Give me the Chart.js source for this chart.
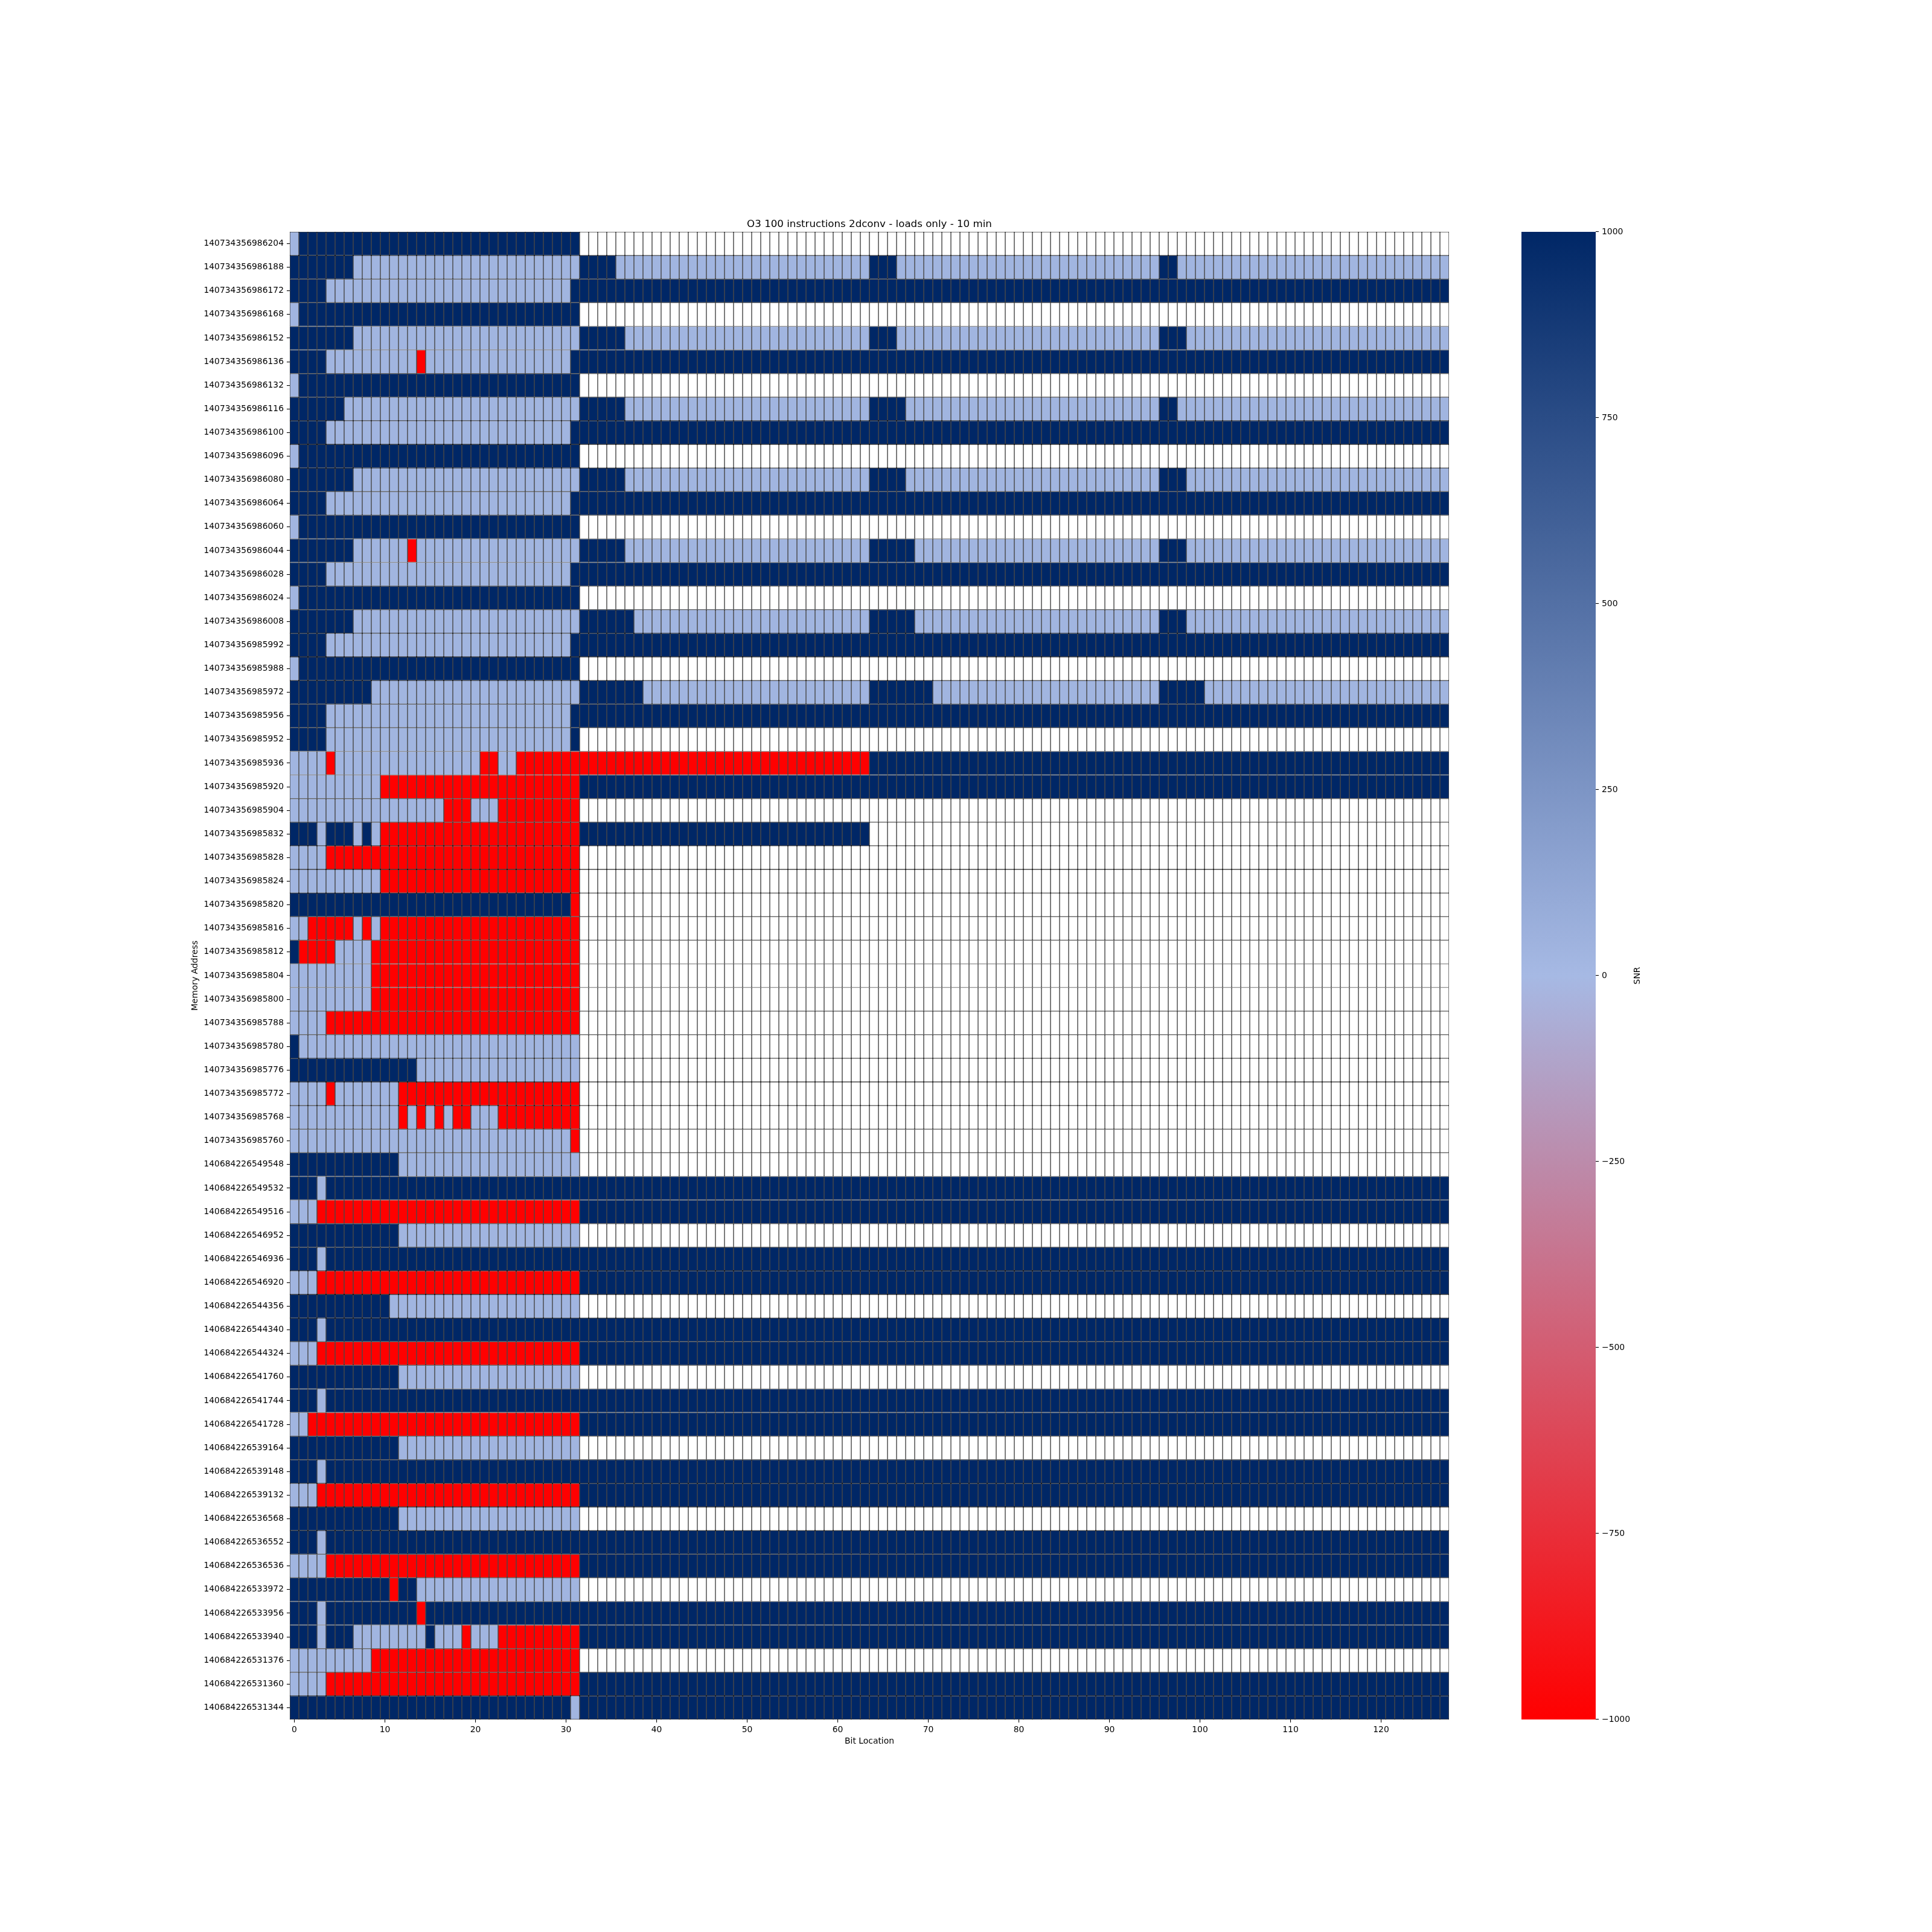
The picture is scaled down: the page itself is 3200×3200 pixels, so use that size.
<!DOCTYPE html>
<html><head><meta charset="utf-8">
<script src="https://cdn.jsdelivr.net/npm/chart.js@4.4.1/dist/chart.umd.min.js"></script>
<style>
html,body{margin:0;padding:0;background:#fff;}
#wrap{position:relative;width:3200px;height:3200px;background:#fff;}
#main{position:absolute;left:0;top:0;}
#cbar{position:absolute;left:2400px;top:0;}
</style></head><body>
<div id="wrap"><canvas id="main" width="3200" height="3200"></canvas><canvas id="cbar" width="800" height="3200"></canvas></div>
<script>
// ---------------- data ----------------
const memoryAddresses = [
  '140734356986204','140734356986188','140734356986172','140734356986168','140734356986152',
  '140734356986136','140734356986132','140734356986116','140734356986100','140734356986096',
  '140734356986080','140734356986064','140734356986060','140734356986044','140734356986028',
  '140734356986024','140734356986008','140734356985992','140734356985988','140734356985972',
  '140734356985956','140734356985952','140734356985936','140734356985920','140734356985904',
  '140734356985832','140734356985828','140734356985824','140734356985820','140734356985816',
  '140734356985812','140734356985804','140734356985800','140734356985788','140734356985780',
  '140734356985776','140734356985772','140734356985768','140734356985760','140684226549548',
  '140684226549532','140684226549516','140684226546952','140684226546936','140684226546920',
  '140684226544356','140684226544340','140684226544324','140684226541760','140684226541744',
  '140684226541728','140684226539164','140684226539148','140684226539132','140684226536568',
  '140684226536552','140684226536536','140684226533972','140684226533956','140684226533940',
  '140684226531376','140684226531360','140684226531344'
];
const bitLocations = Array.from({length: 128}, (_, i) => i);
// SNR value per cell class: D = high SNR, L = near zero, R = low SNR, '.' = no data
const snrLevels = { D: 1000, L: 30, R: -1000, '.': null };
// each row: run-length list of cell classes over the 128 bit locations
const snrRows = [
  'L1 D31 .96',
  'D7 L25 D4 L28 D3 L29 D2 L30',
  'D4 L27 D97',
  'L1 D31 .96',
  'D7 L25 D5 L27 D3 L29 D3 L29',
  'D4 L10 R1 L16 D97',
  'L1 D31 .96',
  'D6 L26 D5 L27 D4 L28 D2 L30',
  'D4 L27 D97',
  'L1 D31 .96',
  'D7 L25 D5 L27 D4 L28 D3 L29',
  'D4 L27 D97',
  'L1 D31 .96',
  'D7 L6 R1 L18 D5 L27 D5 L27 D3 L29',
  'D4 L27 D97',
  'L1 D31 .96',
  'D7 L25 D6 L26 D5 L27 D3 L29',
  'D4 L27 D97',
  'L1 D31 .96',
  'D9 L23 D7 L25 D7 L25 D5 L27',
  'D4 L27 D97',
  'D4 L27 D1 .96',
  'L4 R1 L16 R2 L2 R39 D64',
  'L10 R22 D96',
  'L17 R3 L3 R9 .96',
  'D3 L1 D3 L1 D1 L1 R22 D32 .64',
  'L4 R28 .96',
  'L10 R22 .96',
  'D31 R1 .96',
  'L2 R5 L1 R1 L1 R22 .96',
  'D1 R4 L4 R23 .96',
  'L9 R23 .96',
  'L9 R23 .96',
  'L4 R28 .96',
  'D1 L31 .96',
  'D14 L18 .96',
  'L4 R1 L7 R20 .96',
  'L12 R1 L1 R1 L1 R1 L1 R2 L3 R9 .96',
  'L31 R1 .96',
  'D12 L20 .96',
  'D3 L1 D124',
  'L3 R29 D96',
  'D12 L20 .96',
  'D3 L1 D124',
  'L3 R29 D96',
  'D11 L21 .96',
  'D3 L1 D124',
  'L3 R29 D96',
  'D12 L20 .96',
  'D3 L1 D124',
  'L2 R30 D96',
  'D12 L20 .96',
  'D3 L1 D124',
  'L3 R29 D96',
  'D12 L20 .96',
  'D3 L1 D124',
  'L4 R28 D96',
  'D11 R1 D2 L18 .96',
  'D3 L1 D10 R1 D113',
  'D3 L1 D3 L8 D1 L3 R1 L3 R9 D96',
  'L9 R23 .96',
  'L4 R28 D96',
  'D31 L1 D96'
];
const xTickLabels = [0, 10, 20, 30, 40, 50, 60, 70, 80, 90, 100, 110, 120];
const cbarTicks = [-1000, -750, -500, -250, 0, 250, 500, 750, 1000];
const titleText = 'O3 100 instructions 2dconv - loads only - 10 min';
const xTitle = 'Bit Location';
const yTitle = 'Memory Address';
const cbarTitle = 'SNR';

// ---------------- helpers ----------------
function decodeRow(s) {
  const out = [];
  s.trim().split(/\s+/).forEach(tok => {
    const k = tok[0], n = parseInt(tok.slice(1), 10);
    for (let i = 0; i < n; i++) out.push(snrLevels[k]);
  });
  return out;
}
const snrMatrix = snrRows.map(decodeRow);

const cmapStops = [[-1000, [255, 0, 0]], [0, [166, 185, 228]], [1000, [0, 39, 102]]];
function snrColor(v) {
  if (v === null || v === undefined) return '#ffffff';
  if (v <= cmapStops[0][0]) return 'rgb(' + cmapStops[0][1].join(',') + ')';
  for (let i = 1; i < cmapStops.length; i++) {
    const [v1, c1] = cmapStops[i];
    const [v0, c0] = cmapStops[i - 1];
    if (v <= v1) {
      const t = (v - v0) / (v1 - v0);
      return 'rgb(' + c0.map((c, j) => Math.round(c + (c1[j] - c) * t)).join(',') + ')';
    }
  }
  return 'rgb(' + cmapStops[cmapStops.length - 1][1].join(',') + ')';
}

const FONT = 'DejaVu Sans';
const tickFont = { family: FONT, size: 13.9 };

// ---------------- main heatmap ----------------
const datasets = bitLocations.map(b => ({
  data: memoryAddresses.map(() => [b, b + 1]),
  backgroundColor: snrMatrix.map(row => snrColor(row[b])),
  borderColor: '#000000',
  borderWidth: 0.72,
  borderSkipped: false,
  inflateAmount: 0,
  grouped: false,
  barPercentage: 1,
  categoryPercentage: 1
}));

const mainTexts = {
  id: 'mainTexts',
  afterDraw(chart) {
    const c = chart.ctx, a = chart.chartArea;
    c.save();
    c.fillStyle = '#000';
    c.textAlign = 'center';
    c.textBaseline = 'alphabetic';
    c.font = '16.67px "' + FONT + '"';
    c.fillText(titleText, (a.left + a.right) / 2, a.top - 8);
    c.font = '13.9px "' + FONT + '"';
    c.fillText(xTitle, (a.left + a.right) / 2, 2888);
    c.translate(327, (a.top + a.bottom) / 2);
    c.rotate(-Math.PI / 2);
    c.fillText(yTitle, 0, 0);
    c.restore();
  }
};

new Chart(document.getElementById('main'), {
  type: 'bar',
  data: { labels: memoryAddresses, datasets },
  options: {
    indexAxis: 'y',
    responsive: false,
    animation: false,
    devicePixelRatio: 1,
    events: [],
    layout: { padding: { left: 0, top: 384, right: 800, bottom: 0 } },
    plugins: { legend: { display: false }, tooltip: { enabled: false }, title: { display: false } },
    scales: {
      x: {
        type: 'linear', min: 0, max: 128,
        afterBuildTicks: s => { s.ticks = xTickLabels.map(v => ({ value: v + 0.5 })); },
        afterFit: s => { s.height = 352; },
        ticks: {
          autoSkip: false, maxRotation: 0, padding: 4, color: '#000', font: tickFont,
          callback: v => String(Math.round(v - 0.5))
        },
        grid: { drawOnChartArea: false, drawTicks: true, tickLength: 5, color: '#000', lineWidth: 1.1 },
        border: { display: false }
      },
      y: {
        type: 'category',
        afterFit: s => { s.width = 480; },
        ticks: { autoSkip: false, padding: 5, color: '#000', font: tickFont },
        grid: { offset: false, drawOnChartArea: false, drawTicks: true, tickLength: 5, color: '#000', lineWidth: 1.1 },
        border: { display: false }
      }
    }
  },
  plugins: [mainTexts]
});

// ---------------- colour bar ----------------
const cbarTexts = {
  id: 'cbarTexts',
  afterDraw(chart) {
    const c = chart.ctx, a = chart.chartArea;
    c.save();
    c.fillStyle = '#000';
    c.textAlign = 'center';
    c.textBaseline = 'alphabetic';
    c.font = '13.9px "' + FONT + '"';
    c.translate(316, (a.top + a.bottom) / 2);
    c.rotate(-Math.PI / 2);
    c.fillText(cbarTitle, 0, 0);
    c.restore();
  }
};

new Chart(document.getElementById('cbar'), {
  type: 'bar',
  data: {
    labels: [cbarTitle],
    datasets: [{
      data: [[cbarTicks[0], cbarTicks[cbarTicks.length - 1]]],
      backgroundColor: (ctx) => {
        const ch = ctx.chart, a = ch.chartArea;
        if (!a) return '#ffffff';
        const g = ch.ctx.createLinearGradient(0, a.bottom, 0, a.top);
        const lo = cbarTicks[0], hi = cbarTicks[cbarTicks.length - 1];
        cbarTicks.forEach(v => g.addColorStop((v - lo) / (hi - lo), snrColor(v)));
        return g;
      },
      borderWidth: 0,
      inflateAmount: 0,
      barPercentage: 1,
      categoryPercentage: 1
    }]
  },
  options: {
    responsive: false,
    animation: false,
    devicePixelRatio: 1,
    events: [],
    layout: { padding: { left: 120, top: 384, right: 0, bottom: 352 } },
    plugins: { legend: { display: false }, tooltip: { enabled: false } },
    scales: {
      x: { display: false },
      y: {
        position: 'right', min: cbarTicks[0], max: cbarTicks[cbarTicks.length - 1],
        afterBuildTicks: s => { s.ticks = cbarTicks.map(v => ({ value: v })); },
        afterFit: s => { s.width = 557; },
        ticks: {
          padding: 5, color: '#000', font: tickFont,
          callback: v => (v < 0 ? '\u2212' + Math.abs(v) : String(v))
        },
        grid: { drawOnChartArea: false, drawTicks: true, tickLength: 5, color: '#000', lineWidth: 1.1 },
        border: { display: false }
      }
    }
  },
  plugins: [cbarTexts]
});
</script>
</body></html>
